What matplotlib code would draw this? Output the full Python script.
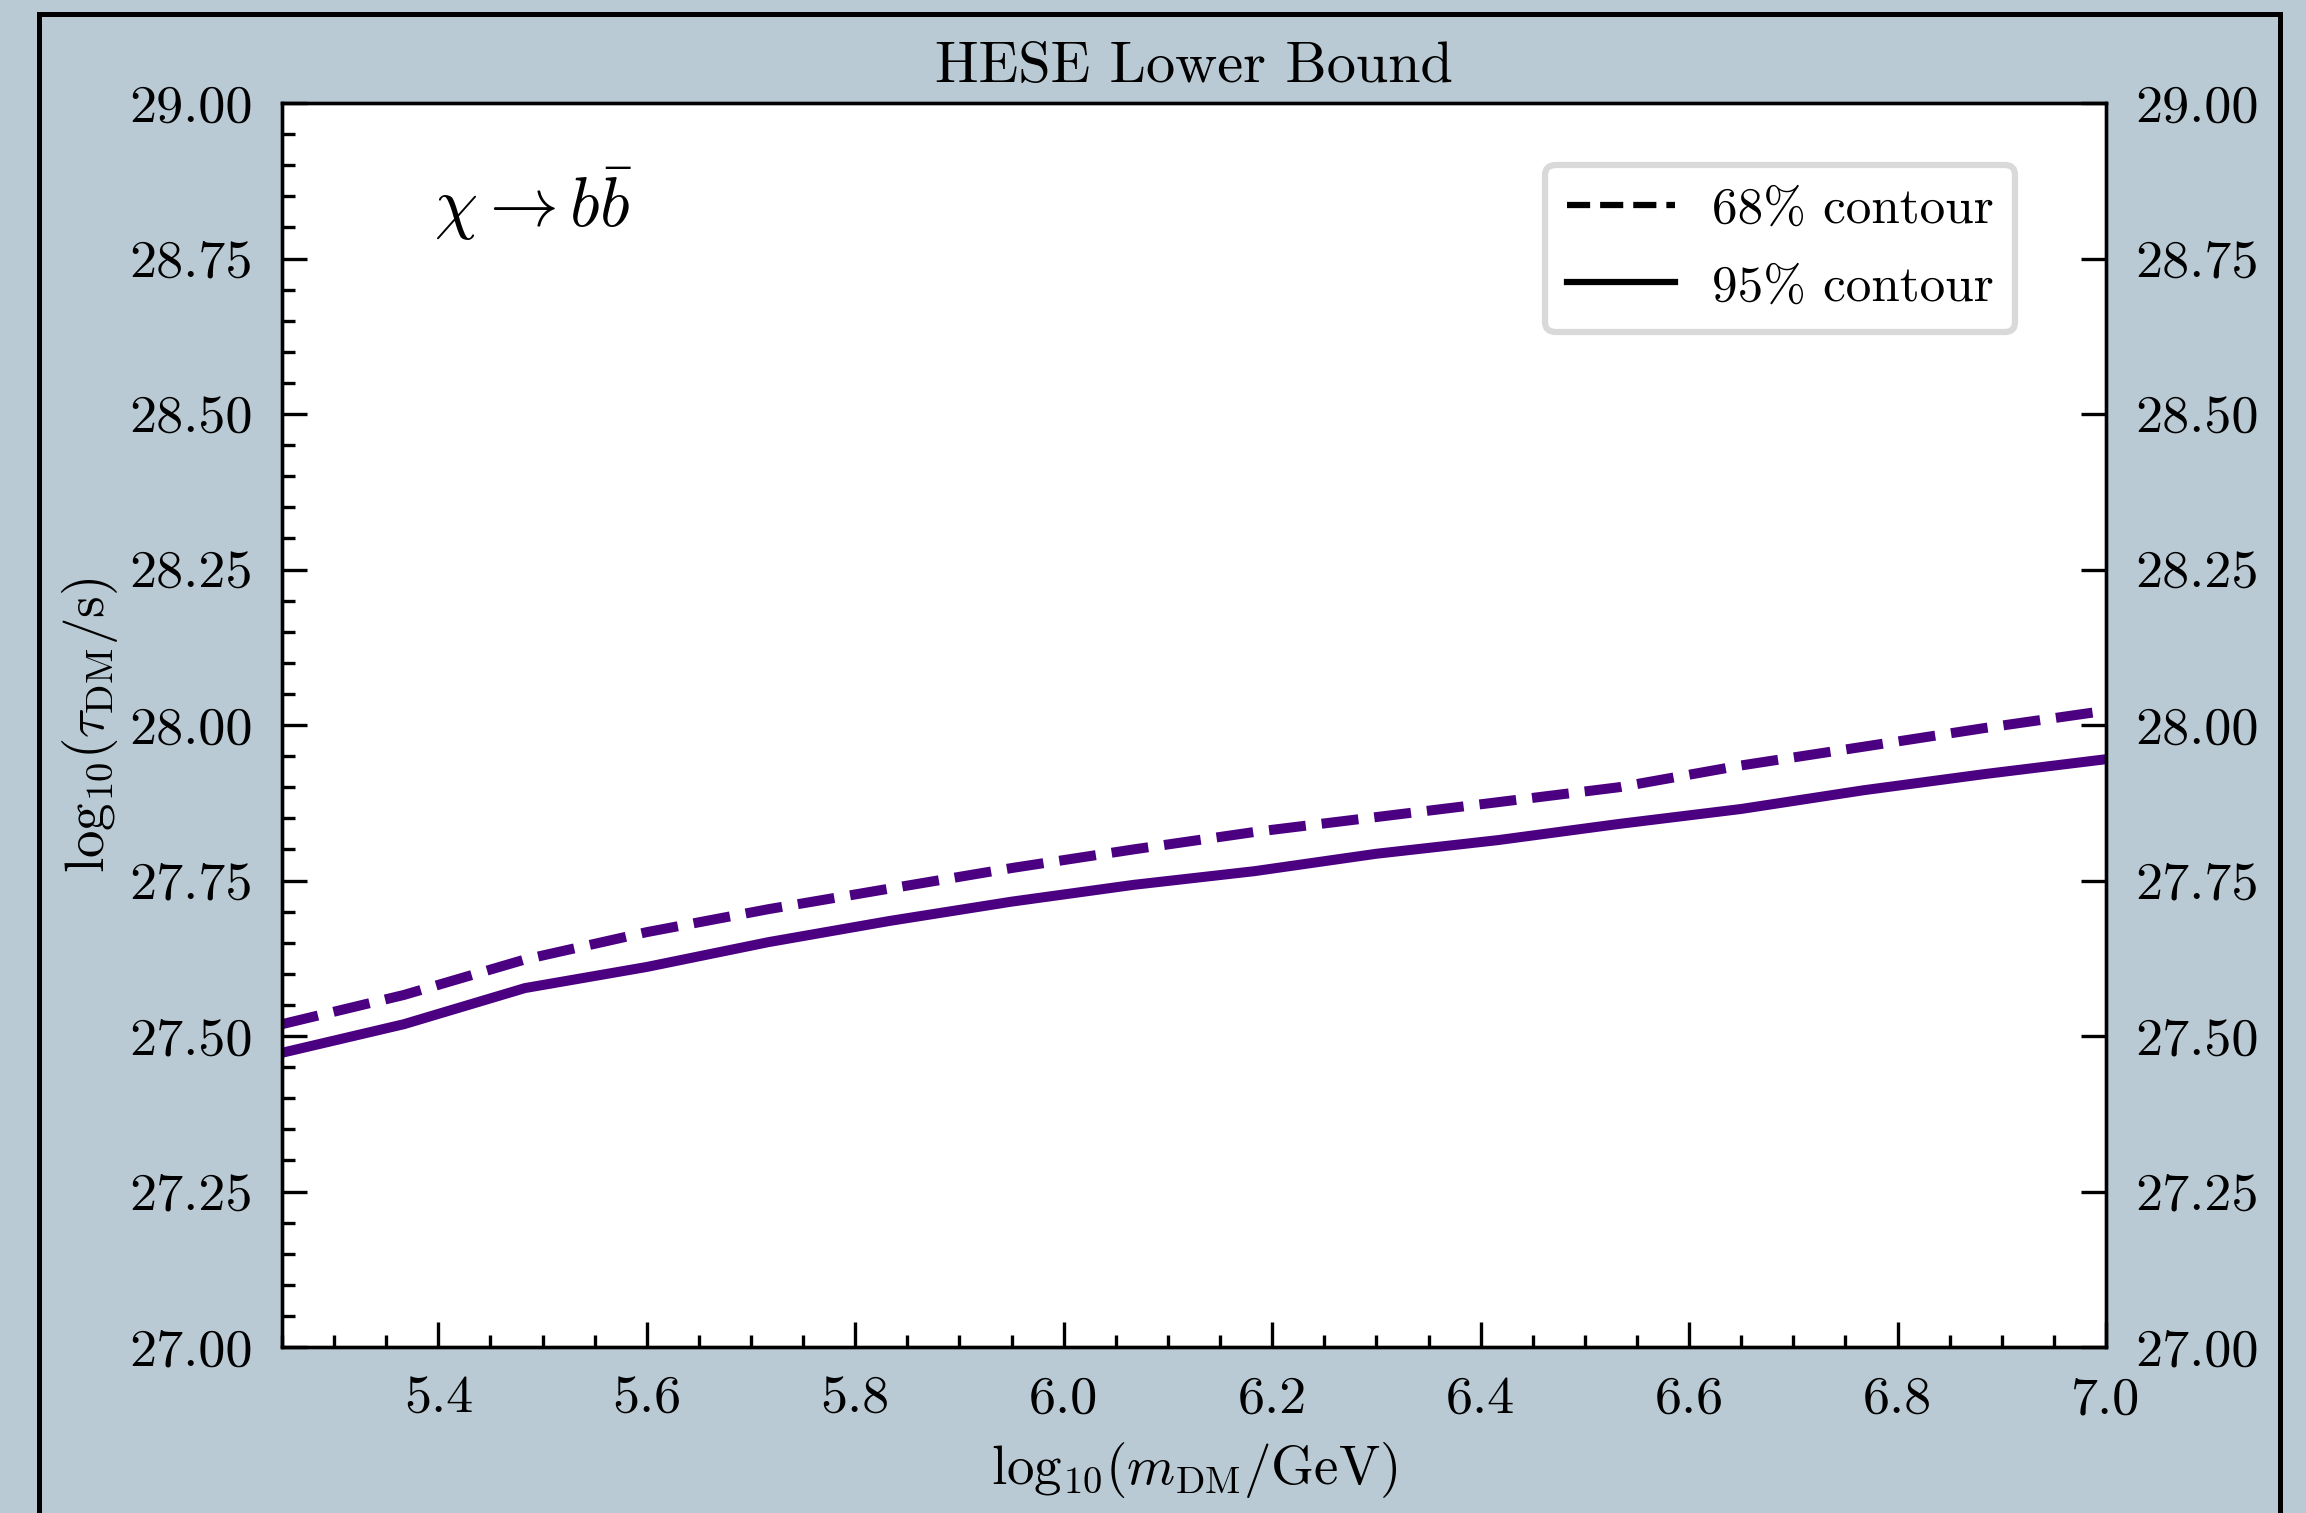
import matplotlib
matplotlib.use('Agg')
import matplotlib.pyplot as plt
from matplotlib.lines import Line2D
from matplotlib.patches import Rectangle
from matplotlib.ticker import MultipleLocator, FormatStrFormatter

plt.rcParams['font.family'] = 'serif'
plt.rcParams['font.serif'] = ['cmr10', 'DejaVu Serif']
plt.rcParams['mathtext.fontset'] = 'cm'
plt.rcParams['axes.formatter.use_mathtext'] = True

# ---- data ----
log_mass = [5.25, 5.367, 5.483, 5.6, 5.717, 5.833, 5.95, 6.067,
            6.183, 6.3, 6.417, 6.533, 6.65, 6.767, 6.883, 7.0]
tau_68 = [27.519, 27.566, 27.623, 27.667, 27.704, 27.737, 27.770, 27.800,
          27.828, 27.852, 27.876, 27.900, 27.935, 27.965, 27.995, 28.023]
tau_95 = [27.473, 27.519, 27.577, 27.611, 27.651, 27.685, 27.716, 27.743,
          27.765, 27.793, 27.815, 27.841, 27.865, 27.895, 27.921, 27.945]
legend_labels = ['68% contour', '95% contour']
title_text = 'HESE Lower Bound'
channel_text = r'$\chi \rightarrow b\bar{b}$'
xlabel_text = r'$\mathrm{log}_{10}(m_{\rm DM}/{\rm GeV})$'
ylabel_text = r'$\mathrm{log}_{10}(\tau_{\rm DM}/{\rm s})$'

W, H, DPI = 2306, 1513, 300
bg = '#b9cad4'
line_color = '#4b0082'

fig = plt.figure(figsize=(W / DPI, H / DPI), dpi=DPI, facecolor=bg)
ax = fig.add_axes([282 / W, 1 - 1347 / H, (2106 - 282) / W, (1347 - 103) / H])
ax.set_facecolor('white')

ax.plot(log_mass, tau_68, color=line_color, lw=2.4, ls='--')
ax.plot(log_mass, tau_95, color=line_color, lw=2.4, ls='-')

ax.set_xlim(5.25, 7.0)
ax.set_ylim(27.0, 29.0)

fs = 13
ax.xaxis.set_major_locator(MultipleLocator(0.2))
ax.xaxis.set_minor_locator(MultipleLocator(0.05))
ax.yaxis.set_major_locator(MultipleLocator(0.25))
ax.yaxis.set_minor_locator(MultipleLocator(0.05))
ax.xaxis.set_major_formatter(FormatStrFormatter('%.1f'))
ax.yaxis.set_major_formatter(FormatStrFormatter('%.2f'))
ax.tick_params(which='both', direction='in', top=False, right=False,
               labelsize=fs, width=0.8)
ax.tick_params(which='major', length=6, pad=7)
ax.tick_params(which='minor', length=3)
for s in ax.spines.values():
    s.set_linewidth(0.8)

ax2 = ax.twinx()
ax2.set_ylim(27.0, 29.0)
ax2.yaxis.set_major_locator(MultipleLocator(0.25))
ax2.yaxis.set_major_formatter(FormatStrFormatter('%.2f'))
ax2.tick_params(which='major', direction='in', length=6, width=0.8,
                labelsize=fs, pad=7)
ax2.tick_params(which='minor', right=False)

ax.set_title(title_text, fontsize=14, pad=5)
ax.set_xlabel(xlabel_text, fontsize=13.2, labelpad=4)
ax.set_ylabel(ylabel_text, fontsize=13.2, labelpad=2.3)

ax.text(0.0835, 0.900, channel_text, transform=ax.transAxes, fontsize=16.5,
        ha='left', va='baseline')

handles = [Line2D([], [], color='black', lw=1.5, ls='--'),
           Line2D([], [], color='black', lw=1.5, ls='-')]
leg = ax.legend(handles, legend_labels, loc='upper right',
                bbox_to_anchor=(0.950, 0.950), borderaxespad=0,
                fontsize=12.3, fancybox=True, framealpha=1,
                handlelength=2.1, handletextpad=0.72, labelspacing=0.62,
                borderpad=0.42)
leg.get_frame().set_edgecolor('#d9d9d9')
leg.get_frame().set_linewidth(1.5)

border = Rectangle((38.5 / W, -0.05), (2280 - 38.5) / W, 1.05 - 14 / H,
                   transform=fig.transFigure, fill=False, edgecolor='black',
                   linewidth=1.2, clip_on=False, zorder=10)
fig.patches.append(border)

fig.savefig('out.png', dpi=DPI, facecolor=bg)
